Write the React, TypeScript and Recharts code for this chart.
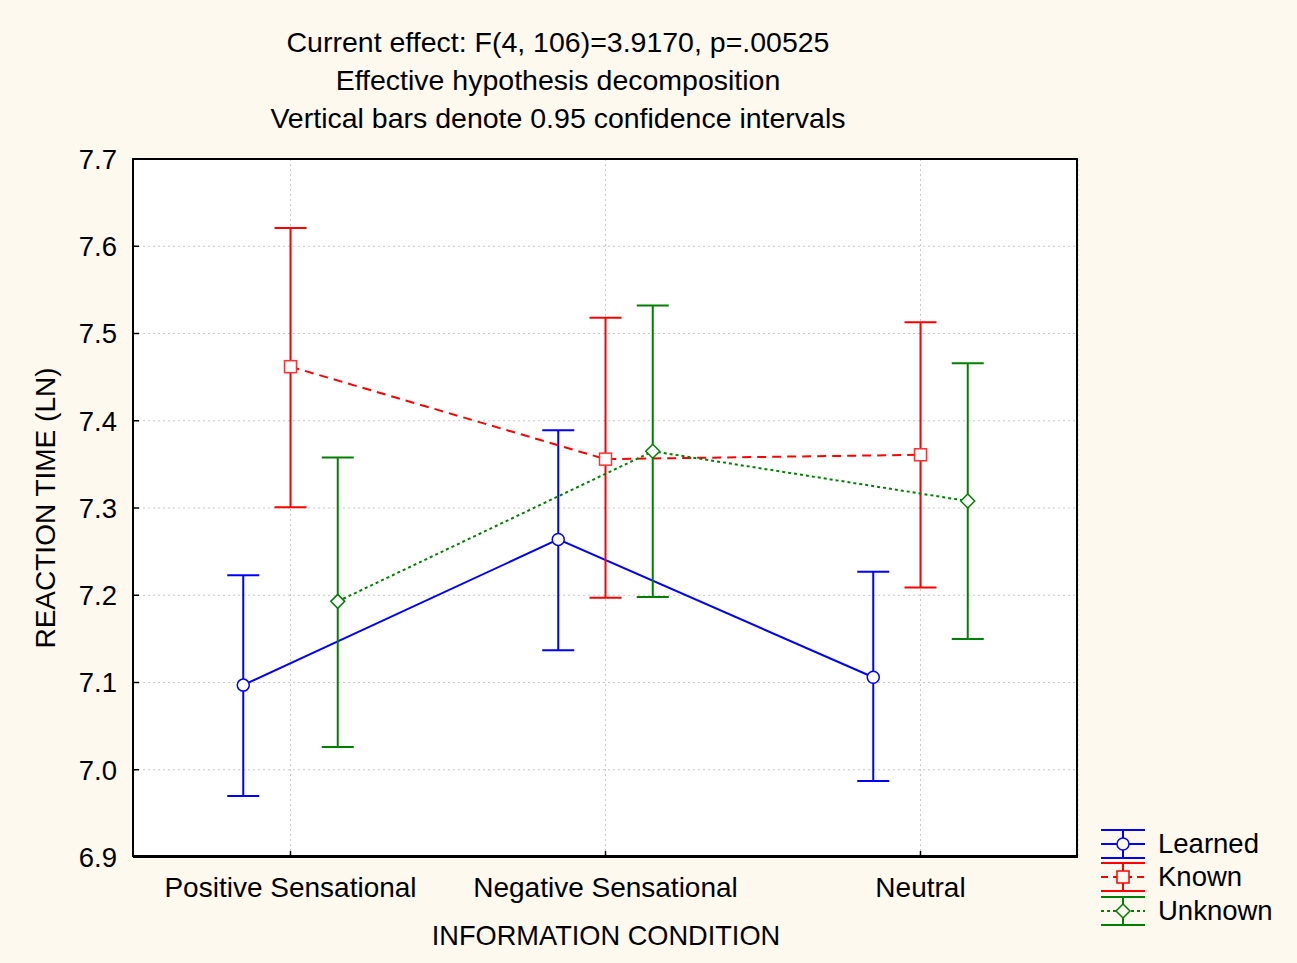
import React from 'react';
import { ComposedChart, Line, ErrorBar, XAxis, YAxis, CartesianGrid } from 'recharts';

const categories = ['Positive Sensational', 'Negative Sensational', 'Neutral'];
const yTicks = [6.9, 7.0, 7.1, 7.2, 7.3, 7.4, 7.5, 7.6, 7.7];

const learnedMean = [7.097, 7.264, 7.106];
const learnedLow = [6.970, 7.137, 6.987];
const learnedHigh = [7.223, 7.389, 7.227];

const knownMean = [7.462, 7.356, 7.361];
const knownLow = [7.301, 7.197, 7.209];
const knownHigh = [7.621, 7.518, 7.513];

const unknownMean = [7.193, 7.365, 7.308];
const unknownLow = [7.026, 7.198, 7.150];
const unknownHigh = [7.358, 7.532, 7.466];

const FONT = '"Liberation Sans", Arial, sans-serif';
const BG = '#fdf9ef';

const build = (mean: number[], low: number[], high: number[], offset: number) =>
  categories.map((c, i) => ({
    x: i + 0.5 + offset,
    y: mean[i],
    err: [mean[i] - low[i], high[i] - mean[i]],
  }));

const learnedData = build(learnedMean, learnedLow, learnedHigh, -0.15);
const knownData = build(knownMean, knownLow, knownHigh, 0);
const unknownData = build(unknownMean, unknownLow, unknownHigh, 0.15);

const CircleDot = (props: any) => {
  const { cx, cy } = props;
  if (cx == null || cy == null) return null;
  return <circle cx={cx} cy={cy} r={6} fill="#fff" stroke="#0000ff" strokeWidth={1.5} />;
};

const SquareDot = (props: any) => {
  const { cx, cy } = props;
  if (cx == null || cy == null) return null;
  return <rect x={cx - 6} y={cy - 6} width={12} height={12} fill="#fff" stroke="#ff3030" strokeWidth={1.5} />;
};

const DiamondDot = (props: any) => {
  const { cx, cy } = props;
  if (cx == null || cy == null) return null;
  return (
    <polygon
      points={`${cx},${cy - 7} ${cx + 7},${cy} ${cx},${cy + 7} ${cx - 7},${cy}`}
      fill="#fff"
      stroke="#008000"
      strokeWidth={1.5}
    />
  );
};

const legendItems = [
  { name: 'Learned', color: '#0000ff', dash: undefined, marker: 'circle' },
  { name: 'Known', color: '#ff0000', dash: '7 5', marker: 'square' },
  { name: 'Unknown', color: '#008000', dash: '3 3', marker: 'diamond' },
];

function LegendIcon({ color, dash, marker }: { color: string; dash?: string; marker: string }) {
  return (
    <svg width={46} height={32} style={{ display: 'block' }}>
      <line x1={1} x2={45} y1={2} y2={2} stroke={color} strokeWidth={2} />
      <line x1={1} x2={45} y1={30} y2={30} stroke={color} strokeWidth={2} />
      <line x1={23} x2={23} y1={2} y2={30} stroke={color} strokeWidth={2} />
      <line x1={1} x2={45} y1={16} y2={16} stroke={color} strokeWidth={2} strokeDasharray={dash} />
      {marker === 'circle' && <circle cx={23} cy={16} r={6} fill={BG} stroke={color} strokeWidth={1.5} />}
      {marker === 'square' && <rect x={17} y={10} width={12} height={12} fill={BG} stroke={color} strokeWidth={1.5} />}
      {marker === 'diamond' && (
        <polygon points="23,9 30,16 23,23 16,16" fill={BG} stroke={color} strokeWidth={1.5} />
      )}
    </svg>
  );
}

export default function App() {
  return (
    <div style={{ position: 'absolute', left: 0, top: 0, width: 1297, height: 963, background: BG, fontFamily: FONT }}>
      <div style={{ position: 'absolute', left: 208, width: 700, top: 23, textAlign: 'center', fontSize: 28.5, lineHeight: '38px', color: '#000' }}>
        <div>Current effect: F(4, 106)=3.9170, p=.00525</div>
        <div>Effective hypothesis decomposition</div>
        <div>Vertical bars denote 0.95 confidence intervals</div>
      </div>
      <ComposedChart
        width={1297}
        height={963}
        margin={{ top: 159, right: 219, bottom: 56, left: 73 }}
        style={{ position: 'absolute', left: 0, top: 0 }}
      >
        <CartesianGrid fill="#ffffff" stroke="#c8c8c8" strokeDasharray="2 3" />
        <XAxis
          dataKey="x"
          type="number"
          domain={[0, 3]}
          ticks={[0.5, 1.5, 2.5]}
          tickFormatter={(v: number) => categories[Math.round(v - 0.5)]}
          allowDataOverflow
          height={50}
          axisLine={{ stroke: '#000', strokeWidth: 2 }}
          tickLine={{ stroke: '#000', strokeWidth: 1.5 }}
          tickSize={-6}
          tickMargin={26}
          tick={{ fill: '#000', fontSize: 28, fontFamily: FONT }}
          label={{
            content: () => (
              <text x={606} y={945} textAnchor="middle" fontSize={27.2} fontFamily={FONT} fill="#000">
                INFORMATION CONDITION
              </text>
            ),
          }}
        />
        <YAxis
          type="number"
          domain={[6.9, 7.7]}
          ticks={yTicks}
          allowDataOverflow
          width={60}
          tickFormatter={(v: number) => v.toFixed(1)}
          axisLine={{ stroke: '#000', strokeWidth: 2 }}
          tickLine={{ stroke: '#000', strokeWidth: 1.5 }}
          tickSize={-6}
          tickMargin={22}
          tick={{ fill: '#000', fontSize: 27.5, fontFamily: FONT }}
          label={{
            content: () => (
              <text
                x={55}
                y={508}
                transform="rotate(-90 55 508)"
                textAnchor="middle"
                fontSize={28}
                fontFamily={FONT}
                fill="#000"
              >
                REACTION TIME (LN)
              </text>
            ),
          }}
        />
        <Line
          data={learnedData}
          dataKey="y"
          stroke="#0000ff"
          strokeWidth={2}
          dot={<CircleDot />}
          activeDot={false}
          isAnimationActive={false}
        >
          <ErrorBar dataKey="err" width={16} stroke="#0000ff" strokeWidth={2} direction="y" isAnimationActive={false} />
        </Line>
        <Line
          data={knownData}
          dataKey="y"
          stroke="#ff0000"
          strokeWidth={2}
          strokeDasharray="9 6"
          dot={<SquareDot />}
          activeDot={false}
          isAnimationActive={false}
        >
          <ErrorBar dataKey="err" width={16} stroke="#ff0000" strokeWidth={2} direction="y" isAnimationActive={false} />
        </Line>
        <Line
          data={unknownData}
          dataKey="y"
          stroke="#008000"
          strokeWidth={2}
          strokeDasharray="3 3"
          dot={<DiamondDot />}
          activeDot={false}
          isAnimationActive={false}
        >
          <ErrorBar dataKey="err" width={16} stroke="#008000" strokeWidth={2} direction="y" isAnimationActive={false} />
        </Line>
      </ComposedChart>
      <div
        style={{
          position: 'absolute',
          left: 132,
          top: 158,
          width: 946,
          height: 699,
          border: '2px solid #000',
          boxSizing: 'border-box',
          pointerEvents: 'none',
        }}
      />
      <div style={{ position: 'absolute', left: 1100, top: 827 }}>
        {legendItems.map(item => (
          <div key={item.name} style={{ display: 'flex', alignItems: 'center', height: 33.5 }}>
            <LegendIcon color={item.color} dash={item.dash} marker={item.marker} />
            <span style={{ marginLeft: 12, fontSize: 27.5, color: '#000' }}>{item.name}</span>
          </div>
        ))}
      </div>
    </div>
  );
}
